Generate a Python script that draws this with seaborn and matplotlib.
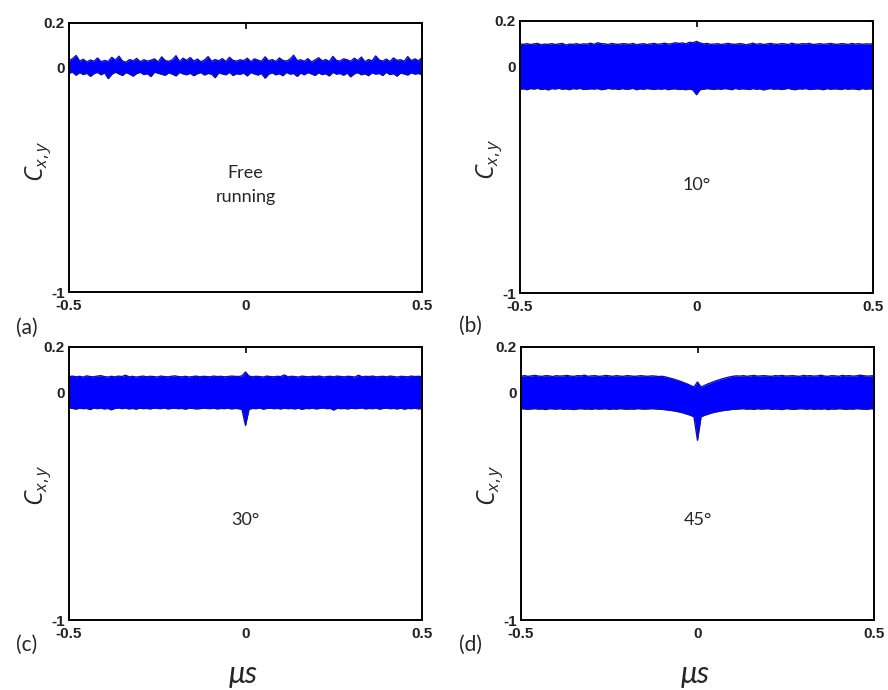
import numpy as np
import pandas as pd
import matplotlib
matplotlib.use("Agg")
import matplotlib.pyplot as plt
import seaborn as sns

# Upper / lower envelopes of the cross-correlation C_xy(tau), tau in microseconds
free_upper = [0.032, 0.041, 0.055, 0.030, 0.038, 0.026, 0.035, 0.029, 0.044, 0.027,
              0.033, 0.028, 0.047, 0.034, 0.052, 0.030, 0.025, 0.037, 0.031, 0.042,
              0.027, 0.036, 0.030, 0.034, 0.040, 0.026, 0.049, 0.032, 0.029, 0.036,
              0.054, 0.028, 0.043, 0.033, 0.046, 0.030, 0.039, 0.027, 0.035, 0.050,
              0.029, 0.037, 0.031, 0.041, 0.028, 0.047, 0.033, 0.030, 0.036, 0.032,
              0.043, 0.027, 0.040, 0.034, 0.029, 0.049, 0.031, 0.037, 0.028, 0.044,
              0.033, 0.030, 0.039, 0.056, 0.032, 0.036, 0.029, 0.041, 0.026, 0.035,
              0.045, 0.031, 0.037, 0.028, 0.051, 0.033, 0.030, 0.040, 0.036, 0.029,
              0.043, 0.032, 0.048, 0.027, 0.037, 0.031, 0.053, 0.035, 0.030, 0.039,
              0.028, 0.044, 0.033, 0.036, 0.029, 0.050, 0.032, 0.040, 0.031, 0.046]
free_lower = [-0.024, -0.019, -0.033, -0.021, -0.030, -0.024, -0.038, -0.026, -0.020, -0.031,
              -0.022, -0.048, -0.029, -0.019, -0.027, -0.034, -0.021, -0.028, -0.037, -0.025,
              -0.020, -0.030, -0.026, -0.039, -0.019, -0.024, -0.029, -0.033, -0.022, -0.028,
              -0.036, -0.020, -0.027, -0.031, -0.024, -0.035, -0.026, -0.021, -0.032, -0.025,
              -0.028, -0.044, -0.022, -0.027, -0.031, -0.020, -0.034, -0.026, -0.029, -0.023,
              -0.036, -0.021, -0.027, -0.032, -0.025, -0.046, -0.028, -0.022, -0.031, -0.026,
              -0.035, -0.020, -0.028, -0.025, -0.038, -0.023, -0.031, -0.021, -0.027, -0.034,
              -0.022, -0.030, -0.026, -0.036, -0.020, -0.028, -0.025, -0.033, -0.023, -0.040,
              -0.027, -0.021, -0.031, -0.026, -0.035, -0.022, -0.028, -0.025, -0.034, -0.020,
              -0.030, -0.026, -0.037, -0.023, -0.027, -0.032, -0.022, -0.028, -0.025, -0.031]

deg10_upper = [0.098, 0.097, 0.100, 0.096, 0.099, 0.101, 0.095, 0.098, 0.097, 0.100,
               0.096, 0.099, 0.101, 0.094, 0.098, 0.097, 0.100, 0.096, 0.099, 0.098,
               0.102, 0.097, 0.104, 0.100, 0.099, 0.096, 0.101, 0.098, 0.097, 0.100,
               0.099, 0.097, 0.101, 0.095, 0.098, 0.100, 0.096, 0.099, 0.101, 0.097,
               0.099, 0.102, 0.098, 0.100, 0.104, 0.101, 0.103, 0.099, 0.106, 0.104,
               0.110, 0.103, 0.099, 0.101, 0.097, 0.098, 0.100, 0.096, 0.099, 0.101,
               0.098, 0.097, 0.100, 0.099, 0.095, 0.098, 0.102, 0.097, 0.100, 0.096,
               0.099, 0.101, 0.098, 0.097, 0.100, 0.099, 0.096, 0.102, 0.098, 0.097,
               0.100, 0.099, 0.101, 0.096, 0.098, 0.100, 0.097, 0.099, 0.101, 0.098,
               0.097, 0.100, 0.099, 0.096, 0.101, 0.098, 0.100, 0.097, 0.099, 0.098, 0.100]
deg10_lower = [-0.101, -0.099, -0.103, -0.098, -0.100, -0.097, -0.102, -0.099, -0.104, -0.098,
               -0.100, -0.097, -0.101, -0.099, -0.103, -0.098, -0.100, -0.097, -0.102, -0.101,
               -0.099, -0.100, -0.098, -0.103, -0.101, -0.097, -0.100, -0.099, -0.102, -0.098,
               -0.101, -0.100, -0.097, -0.103, -0.099, -0.101, -0.098, -0.100, -0.102, -0.099,
               -0.101, -0.098, -0.103, -0.100, -0.099, -0.102, -0.101, -0.103, -0.100, -0.104,
               -0.125, -0.103, -0.101, -0.098, -0.100, -0.102, -0.099, -0.101, -0.098, -0.100,
               -0.103, -0.097, -0.101, -0.099, -0.100, -0.102, -0.098, -0.101, -0.099, -0.104,
               -0.100, -0.098, -0.101, -0.099, -0.102, -0.100, -0.097, -0.101, -0.103, -0.099,
               -0.100, -0.098, -0.102, -0.101, -0.099, -0.100, -0.103, -0.098, -0.101, -0.099,
               -0.100, -0.102, -0.098, -0.101, -0.099, -0.100, -0.103, -0.098, -0.101, -0.099, -0.100]

deg30_upper = [0.070, 0.072, 0.069, 0.071, 0.068, 0.073, 0.070, 0.069, 0.072, 0.074,
               0.070, 0.068, 0.071, 0.069, 0.072, 0.070, 0.076, 0.069, 0.071, 0.068,
               0.070, 0.072, 0.069, 0.071, 0.070, 0.068, 0.072, 0.070, 0.069, 0.071,
               0.073, 0.070, 0.069, 0.071, 0.068, 0.070, 0.072, 0.069, 0.071, 0.070,
               0.069, 0.072, 0.070, 0.071, 0.069, 0.070, 0.072, 0.071, 0.070, 0.073,
               0.090, 0.072, 0.069, 0.071, 0.070, 0.068, 0.072, 0.070, 0.069, 0.071,
               0.070, 0.077, 0.069, 0.071, 0.070, 0.068, 0.072, 0.070, 0.069, 0.071,
               0.070, 0.072, 0.068, 0.070, 0.071, 0.069, 0.072, 0.070, 0.069, 0.071,
               0.070, 0.068, 0.076, 0.069, 0.071, 0.070, 0.072, 0.069, 0.070, 0.071,
               0.069, 0.072, 0.070, 0.068, 0.071, 0.070, 0.069, 0.072, 0.070, 0.071, 0.070]
deg30_lower = [-0.068, -0.070, -0.073, -0.069, -0.071, -0.070, -0.075, -0.068, -0.071, -0.069,
               -0.072, -0.070, -0.076, -0.070, -0.068, -0.071, -0.069, -0.072, -0.070, -0.073,
               -0.069, -0.071, -0.070, -0.072, -0.069, -0.070, -0.071, -0.068, -0.072, -0.070,
               -0.069, -0.071, -0.070, -0.073, -0.069, -0.070, -0.072, -0.071, -0.069, -0.070,
               -0.071, -0.069, -0.072, -0.070, -0.071, -0.069, -0.072, -0.070, -0.071, -0.074,
               -0.145, -0.073, -0.070, -0.071, -0.068, -0.073, -0.070, -0.069, -0.071, -0.070,
               -0.072, -0.069, -0.071, -0.070, -0.072, -0.069, -0.074, -0.070, -0.071, -0.069,
               -0.072, -0.070, -0.068, -0.071, -0.070, -0.077, -0.069, -0.071, -0.070, -0.072,
               -0.069, -0.071, -0.070, -0.068, -0.072, -0.070, -0.071, -0.069, -0.073, -0.070,
               -0.069, -0.071, -0.070, -0.072, -0.069, -0.073, -0.070, -0.071, -0.069, -0.072, -0.070]

deg45_upper = [0.072, 0.074, 0.071, 0.073, 0.075, 0.072, 0.071, 0.074, 0.073, 0.070,
               0.074, 0.072, 0.073, 0.075, 0.072, 0.071, 0.074, 0.073, 0.076, 0.071,
               0.073, 0.074, 0.071, 0.072, 0.075, 0.073, 0.071, 0.074, 0.072, 0.071,
               0.074, 0.073, 0.071, 0.072, 0.074, 0.072, 0.071, 0.073, 0.072, 0.070,
               0.071, 0.068, 0.064, 0.060, 0.055, 0.050, 0.044, 0.038, 0.031, 0.024,
               0.046, 0.024, 0.031, 0.038, 0.044, 0.050, 0.055, 0.060, 0.064, 0.068,
               0.071, 0.073, 0.072, 0.074, 0.071, 0.073, 0.075, 0.072, 0.073, 0.074,
               0.072, 0.071, 0.074, 0.073, 0.075, 0.072, 0.073, 0.074, 0.072, 0.071,
               0.075, 0.073, 0.074, 0.072, 0.073, 0.076, 0.072, 0.071, 0.074, 0.073,
               0.071, 0.075, 0.073, 0.074, 0.072, 0.073, 0.076, 0.074, 0.072, 0.073, 0.074]
deg45_lower = [-0.071, -0.072, -0.074, -0.072, -0.071, -0.073, -0.072, -0.075, -0.071, -0.072,
               -0.073, -0.071, -0.074, -0.072, -0.073, -0.075, -0.072, -0.071, -0.073, -0.072,
               -0.074, -0.071, -0.073, -0.072, -0.071, -0.074, -0.072, -0.073, -0.071, -0.072,
               -0.074, -0.072, -0.073, -0.071, -0.072, -0.073, -0.072, -0.071, -0.072, -0.073,
               -0.074, -0.076, -0.078, -0.080, -0.083, -0.086, -0.090, -0.095, -0.100, -0.107,
               -0.210, -0.107, -0.100, -0.095, -0.090, -0.086, -0.083, -0.080, -0.078, -0.076,
               -0.074, -0.073, -0.072, -0.071, -0.073, -0.072, -0.074, -0.071, -0.073, -0.072,
               -0.071, -0.074, -0.072, -0.073, -0.075, -0.071, -0.072, -0.074, -0.073, -0.071,
               -0.072, -0.073, -0.071, -0.074, -0.072, -0.073, -0.071, -0.075, -0.072, -0.073,
               -0.071, -0.072, -0.074, -0.072, -0.073, -0.071, -0.072, -0.073, -0.074, -0.071, -0.072]

panel_tags = ["(a)", "(b)", "(c)", "(d)"]
panel_notes = ["Free\nrunning", "10°", "30°", "45°"]
x_ticks = [-0.5, 0, 0.5]
x_tick_labels = ["-0.5", "0", "0.5"]
y_ticks = [-1, 0, 0.2]
y_tick_labels = ["-1", "0", "0.2"]

sns.set_style("white")
plt.rcParams["font.family"] = ["Liberation Sans", "DejaVu Sans"]
plt.rcParams["mathtext.fontset"] = "custom"
plt.rcParams["mathtext.it"] = "Open Sans:italic"
plt.rcParams["mathtext.rm"] = "Open Sans"

W, H = 888, 690
fig = plt.figure(figsize=(W / 100, H / 100), dpi=100)

# axes boxes in pixels: left, top, right, bottom
boxes = [(69, 23, 422, 292), (520, 21, 873, 293),
         (69, 347, 422, 620), (521, 347, 874, 620)]
envelopes = [(free_upper, free_lower), (deg10_upper, deg10_lower),
             (deg30_upper, deg30_lower), (deg45_upper, deg45_lower)]
note_y = [185, 185, 520, 520]
ylabel_y = [161, 159, 485, 485]
blue = "#0000ff"

for i, (box, (up, lo)) in enumerate(zip(boxes, envelopes)):
    l, t, r, b = box
    ax = fig.add_axes([l / W, 1 - b / H, (r - l) / W, (b - t) / H])
    df = pd.DataFrame({
        "tau": np.concatenate([np.linspace(-0.5, 0.5, len(up)),
                               np.linspace(-0.5, 0.5, len(lo))]),
        "c": up + lo,
        "edge": ["upper"] * len(up) + ["lower"] * len(lo),
    })
    ax.fill_between(np.linspace(-0.5, 0.5, len(up)), lo, up,
                    color=blue, linewidth=0)
    sns.lineplot(data=df, x="tau", y="c", units="edge", estimator=None,
                 color="#1010a8", linewidth=1.0, ax=ax, sort=False)
    ax.set_xlim(-0.5, 0.5)
    ax.set_ylim(-1, 0.2)
    ax.set_xticks(x_ticks)
    ax.set_xticklabels(x_tick_labels)
    ax.set_yticks(y_ticks)
    ax.set_yticklabels(y_tick_labels)
    ax.set_xlabel("")
    ax.set_ylabel("")
    ax.tick_params(axis="both", direction="in", length=4, width=1.2,
                   top=True, right=True, labelsize=11, colors="black")
    ax.tick_params(axis="x", pad=5)
    ax.tick_params(axis="y", pad=3)
    for lab in ax.get_xticklabels() + ax.get_yticklabels():
        lab.set_fontweight("bold")
        lab.set_color("#222222")
    for s in ax.spines.values():
        s.set_linewidth(1.4)
        s.set_color("black")
    cx = (l + r) / 2
    fig.text(cx / W, 1 - note_y[i] / H, panel_notes[i], ha="center", va="center",
             fontsize=13, family="Lato", linespacing=1.55)
    fig.text((l - 31) / W, 1 - ylabel_y[i] / H, r"$C_{x,y}$",
             rotation=90, ha="center", va="center", fontsize=18)

tag_pos = [(27, 328), (470, 326), (27, 645), (470, 645)]
for tag, (px, py) in zip(panel_tags, tag_pos):
    fig.text(px / W, 1 - py / H, tag, ha="center", va="center",
             fontsize=15, family="Lato")

for px in (243, 695):
    fig.text(px / W, 1 - 674 / H, "μs", ha="center", va="center",
             fontsize=22, family="Lato", style="italic")

fig.savefig("out.png", dpi=100, facecolor="white")
